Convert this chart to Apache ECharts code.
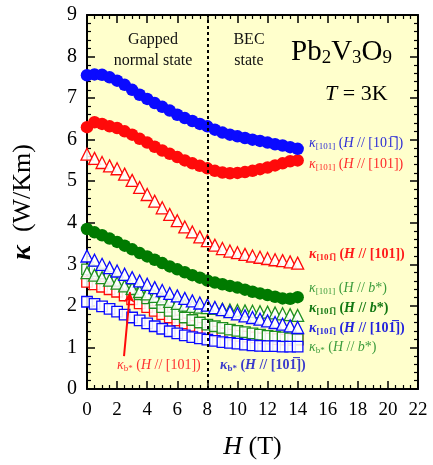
<!DOCTYPE html>
<html><head><meta charset="utf-8">
<script src="https://cdn.jsdelivr.net/npm/echarts@6/dist/echarts.min.js"></script>
<style>html,body{margin:0;padding:0;background:#fff}#c{width:433px;height:465px}</style>
</head><body><div id="c"></div>
<script>
const H = [0,0.5,1,1.5,2,2.5,3,3.5,4,4.5,5,5.5,6,6.5,7,7.5,8,8.5,9,9.5,10,10.5,11,11.5,12,12.5,13,13.5,14];
const xTicks = [0,2,4,6,8,10,12,14,16,18,20,22];
const yTicks = [0,1,2,3,4,5,6,7,8,9];
// filled circles
const k101_H10m1 = [7.55,7.57,7.56,7.50,7.42,7.32,7.20,7.08,6.98,6.88,6.79,6.70,6.60,6.52,6.45,6.38,6.32,6.24,6.17,6.12,6.08,6.04,6.00,5.97,5.93,5.89,5.86,5.82,5.78];
const k101_H101 = [6.30,6.42,6.38,6.32,6.28,6.20,6.12,6.02,5.93,5.83,5.74,5.66,5.58,5.50,5.43,5.37,5.31,5.25,5.21,5.19,5.20,5.22,5.25,5.29,5.33,5.38,5.43,5.48,5.50];
const k101_Hb = [3.85,3.77,3.70,3.62,3.54,3.45,3.36,3.27,3.19,3.11,3.03,2.95,2.88,2.81,2.74,2.68,2.61,2.56,2.52,2.48,2.44,2.39,2.34,2.30,2.26,2.22,2.18,2.17,2.21];
// open triangles
const k10m1_H101 = [5.65,5.55,5.45,5.37,5.30,5.17,5.02,4.85,4.68,4.52,4.36,4.20,4.05,3.90,3.78,3.66,3.57,3.46,3.38,3.32,3.28,3.24,3.20,3.17,3.14,3.11,3.09,3.06,3.03];
const k10m1_H10m1 = [3.20,3.10,3.00,2.92,2.84,2.76,2.68,2.60,2.52,2.44,2.37,2.30,2.24,2.18,2.12,2.07,2.02,1.96,1.91,1.86,1.81,1.76,1.72,1.68,1.64,1.60,1.56,1.52,1.48];
const k10m1_Hb = [2.80,2.74,2.68,2.62,2.55,2.48,2.42,2.35,2.29,2.23,2.17,2.11,2.06,2.02,1.99,1.97,1.96,1.94,1.92,1.90,1.89,1.88,1.87,1.86,1.85,1.83,1.81,1.79,1.77];
// open squares
const kb_Hb = [2.88,2.84,2.78,2.70,2.60,2.50,2.40,2.28,2.18,2.07,1.97,1.88,1.80,1.72,1.66,1.60,1.55,1.51,1.47,1.43,1.40,1.37,1.34,1.31,1.28,1.26,1.24,1.22,1.20];
const kb_H101 = [2.58,2.52,2.46,2.40,2.34,2.25,2.16,2.06,1.97,1.88,1.80,1.72,1.65,1.58,1.52,1.47,1.42,1.38,1.34,1.31,1.28,1.26,1.24,1.22,1.21,1.20,1.19,1.18,1.18];
const kb_H10m1 = [2.10,2.05,1.99,1.93,1.86,1.79,1.72,1.65,1.58,1.51,1.45,1.39,1.34,1.29,1.25,1.22,1.19,1.16,1.13,1.11,1.09,1.07,1.05,1.04,1.03,1.03,1.02,1.02,1.02];
const boundaryH = 8;
const arrowFrom = [2.46, 0.79];
const arrowTo = [2.86, 2.33];

const BLUE = '#0a0aff', RED = '#ff0a0a', GREEN = '#007a00', GREEN2 = '#1f8f1f';
const SERIF = '"Liberation Serif", "Times New Roman", serif';
const zip = a => H.map((h, i) => [h, a[i]]);

function openS(name, arr, sym, col, size) {
  return { name, type: 'scatter', data: zip(arr), symbol: sym, symbolSize: size,
    itemStyle: { color: 'rgba(255,255,255,0.88)', borderColor: col, borderWidth: 1.3, opacity: 1 }, z: 3 };
}
function fillS(name, arr, col) {
  return { name, type: 'scatter', data: zip(arr), symbol: 'circle', symbolSize: 12.5,
    itemStyle: { color: col, opacity: 1 }, z: 4 };
}

const series = [
  Object.assign(openS('kb_H101', kb_H101, 'rect', RED, 10.5), {
    markLine: { silent: true, symbol: ['none', 'arrow'], symbolSize: [8, 10],
      lineStyle: { color: RED, width: 2, type: 'solid' }, label: { show: false },
      data: [[{ coord: arrowFrom }, { coord: arrowTo }]] } }),
  openS('kb_Hb', kb_Hb, 'rect', GREEN2, 10.5),
  openS('kb_H10m1', kb_H10m1, 'rect', BLUE, 10.5),
  openS('k10m1_Hb', k10m1_Hb, 'triangle', GREEN2, 12),
  openS('k10m1_H10m1', k10m1_H10m1, 'triangle', BLUE, 12),
  openS('k10m1_H101', k10m1_H101, 'triangle', RED, 12),
  fillS('k101_Hb', k101_Hb, GREEN),
  fillS('k101_H101', k101_H101, RED),
  Object.assign(fillS('k101_H10m1', k101_H10m1, BLUE), {
    markLine: { silent: true, symbol: 'none', label: { show: false },
      lineStyle: { color: '#000', width: 2, type: [3, 3] },
      data: [[{ coord: [boundaryH, 0] }, { coord: [boundaryH, 9] }]] } })
];

const OL = '\u0305';
const D101 = '{t|[101])}';
const D10m1 = '{t|[101' + OL + '])}';
const Db = '{i|b}{t|*)}';
function lbl(x, y, col, subTxt, dirRich, bold) {
  const fw = bold ? 'bold' : 'normal';
  return { type: 'text', x, y, z: 10, style: {
    text: '{k|κ}{s|' + subTxt + '}{t| (}{i|H}{t| // }' + dirRich,
    fill: col, textVerticalAlign: 'middle', font: fw + ' 14px ' + SERIF,
    rich: {
      k: { fontFamily: SERIF, fontSize: 14, fontStyle: 'italic', fontWeight: fw, fill: col },
      s: { fontFamily: SERIF, fontSize: 9, fontWeight: fw, fill: col, padding: [7, 0, 0, 0] },
      t: { fontFamily: SERIF, fontSize: 14, fontWeight: fw, fill: col },
      i: { fontFamily: SERIF, fontSize: 14, fontStyle: 'italic', fontWeight: fw, fill: col }
    } } };
}

const chart = echarts.init(document.getElementById('c'));
const axisLine = { show: true, onZero: false, lineStyle: { color: '#000', width: 2 } };
const axisTick = { show: true, inside: true, length: 8, lineStyle: { color: '#000', width: 1.5 } };
const minorX = { show: true, length: 4, splitNumber: 4, lineStyle: { color: '#000', width: 1.2 } };
const minorY = { show: true, length: 4, splitNumber: 5, lineStyle: { color: '#000', width: 1.2 } };
chart.setOption({
  animation: false,
  backgroundColor: '#fff',
  grid: { left: 87, right: 15, top: 15, bottom: 76, show: true, backgroundColor: '#ffffcc', borderWidth: 0 },
  xAxis: [
    { type: 'value', min: xTicks[0], max: xTicks[xTicks.length - 1], interval: 2, position: 'bottom',
      axisLine, axisTick, minorTick: minorX, splitLine: { show: false },
      axisLabel: { fontFamily: SERIF, fontSize: 19, color: '#000', margin: 12 },
      name: '{i|H} (T)', nameLocation: 'middle', nameGap: 45,
      nameTextStyle: { fontFamily: SERIF, fontSize: 26, color: '#000', rich: { i: { fontFamily: SERIF, fontSize: 26, fontStyle: 'italic' } } } },
    { type: 'value', min: 0, max: 22, interval: 2, position: 'top', axisLabel: { show: false },
      axisLine, axisTick, minorTick: minorX, splitLine: { show: false } }
  ],
  yAxis: [
    { type: 'value', min: yTicks[0], max: yTicks[yTicks.length - 1], interval: 1, position: 'left',
      axisLabel: { fontFamily: SERIF, fontSize: 20, color: '#000', margin: 10 },
      axisLine, axisTick, minorTick: minorY, splitLine: { show: false },
      name: '{i|κ}  (W/Km)', nameLocation: 'middle', nameGap: 50,
      nameTextStyle: { fontFamily: SERIF, fontSize: 26, color: '#000', rich: { i: { fontFamily: SERIF, fontSize: 28, fontStyle: 'italic', fontWeight: 'bold' } } } },
    { type: 'value', min: 0, max: 9, interval: 1, position: 'right', axisLabel: { show: false },
      axisLine, axisTick, minorTick: minorY, splitLine: { show: false } }
  ],
  series,
  graphic: [
    { type: 'text', x: 153, y: 50, z: 10, style: { text: 'Gapped\nnormal state', font: '16px ' + SERIF, fill: '#111', textAlign: 'center', textVerticalAlign: 'middle', lineHeight: 21 } },
    { type: 'text', x: 249, y: 50, z: 10, style: { text: 'BEC\nstate', font: '16px ' + SERIF, fill: '#111', textAlign: 'center', textVerticalAlign: 'middle', lineHeight: 21 } },
    { type: 'text', x: 291, y: 52, z: 10, style: { text: 'Pb{s|2}V{s|3}O{s|9}', fill: '#000', textVerticalAlign: 'middle',
      font: '29px ' + SERIF,
      rich: { s: { fontFamily: SERIF, fontSize: 19, fill: '#000', padding: [12, 0, 0, 0] } } } },
    { type: 'text', x: 325, y: 94, z: 10, style: { text: '{i|T} = 3K', fill: '#000', textVerticalAlign: 'middle',
      font: '22px ' + SERIF, rich: { i: { fontFamily: SERIF, fontSize: 22, fontStyle: 'italic' } } } },
    lbl(309, 143, '#2d2dd6', '[101]', D10m1, false),
    lbl(309, 164, '#ff2a2a', '[101]', D101, false),
    lbl(309, 254, '#ff1a1a', '[101' + OL + ']', D101, true),
    lbl(309, 288, '#3c9c3c', '[101]', Db, false),
    lbl(309, 308, '#117711', '[101' + OL + ']', Db, true),
    lbl(309, 328, '#2222dd', '[101' + OL + ']', D10m1, true),
    lbl(309, 347, '#3c9c3c', 'b*', Db, false),
    lbl(220, 365, '#3a3acc', 'b*', D10m1, true),
    lbl(117, 365, '#ff3030', 'b*', D101, false)
  ]
});
</script></body></html>
